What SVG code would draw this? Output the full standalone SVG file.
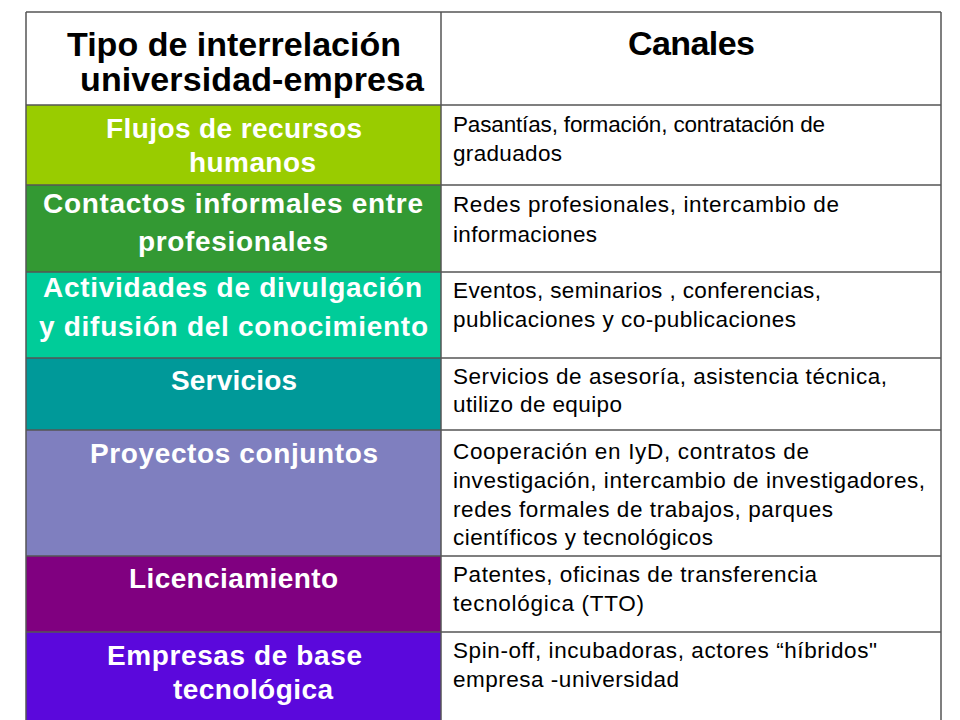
<svg xmlns="http://www.w3.org/2000/svg" width="960" height="720" viewBox="0 0 960 720">
<style>
.hd{font-family:"Liberation Sans",Arial,sans-serif;font-weight:bold;font-size:34px;fill:#000}
.lt{font-family:"Liberation Sans",Arial,sans-serif;font-weight:bold;font-size:28px;fill:#fff}
.rt{font-family:"Liberation Sans",Arial,sans-serif;font-size:22.5px;fill:#000}
.cell{fill:#fff}
.grid{stroke:#555;stroke-width:1.5;fill:none}
</style>
<rect width="960" height="720" fill="#fff"/>
<g id="header">
<rect x="26" y="12" width="915" height="93" class="cell"/>
<text class="hd" x="67" y="56" textLength="334" lengthAdjust="spacing">Tipo de interrelación</text>
<text class="hd" x="80" y="91" textLength="344" lengthAdjust="spacing">universidad-empresa</text>
<text class="hd" x="628" y="55" textLength="127" lengthAdjust="spacing">Canales</text>
</g>
<g id="row1">
<rect x="26" y="105" width="415" height="80" fill="#99CC00"/>
<text class="lt" x="106" y="138" textLength="256" lengthAdjust="spacing">Flujos de recursos</text>
<text class="lt" x="189" y="172" textLength="127" lengthAdjust="spacing">humanos</text>
<text class="rt" x="453" y="132" textLength="372" lengthAdjust="spacing">Pasantías, formación, contratación de</text>
<text class="rt" x="453" y="161" textLength="109" lengthAdjust="spacing">graduados</text>
</g>
<g id="row2">
<rect x="26" y="185" width="415" height="87" fill="#339933"/>
<text class="lt" x="43" y="213" textLength="380" lengthAdjust="spacing">Contactos informales entre</text>
<text class="lt" x="138" y="251" textLength="190" lengthAdjust="spacing">profesionales</text>
<text class="rt" x="453" y="212" textLength="386" lengthAdjust="spacing">Redes profesionales, intercambio de</text>
<text class="rt" x="453" y="242" textLength="144" lengthAdjust="spacing">informaciones</text>
</g>
<g id="row3">
<rect x="26" y="272" width="415" height="86" fill="#00CC99"/>
<text class="lt" x="43" y="297" textLength="379" lengthAdjust="spacing">Actividades de divulgación</text>
<text class="lt" x="39" y="336" textLength="389" lengthAdjust="spacing">y difusión del conocimiento</text>
<text class="rt" x="453" y="298" textLength="368" lengthAdjust="spacing">Eventos, seminarios , conferencias,</text>
<text class="rt" x="453" y="327" textLength="343" lengthAdjust="spacing">publicaciones y co-publicaciones</text>
</g>
<g id="row4">
<rect x="26" y="358" width="415" height="72" fill="#009999"/>
<text class="lt" x="171" y="390" textLength="126" lengthAdjust="spacing">Servicios</text>
<text class="rt" x="453" y="384" textLength="434" lengthAdjust="spacing">Servicios de asesoría, asistencia técnica,</text>
<text class="rt" x="453" y="412" textLength="169" lengthAdjust="spacing">utilizo de equipo</text>
</g>
<g id="row5">
<rect x="26" y="430" width="415" height="126" fill="#7F7FBF"/>
<text class="lt" x="90" y="463" textLength="288" lengthAdjust="spacing">Proyectos conjuntos</text>
<text class="rt" x="453" y="459" textLength="356" lengthAdjust="spacing">Cooperación en IyD, contratos de</text>
<text class="rt" x="453" y="488" textLength="472" lengthAdjust="spacing">investigación, intercambio de investigadores,</text>
<text class="rt" x="453" y="517" textLength="380" lengthAdjust="spacing">redes formales de trabajos, parques</text>
<text class="rt" x="453" y="545" textLength="260" lengthAdjust="spacing">científicos y tecnológicos</text>
</g>
<g id="row6">
<rect x="26" y="556" width="415" height="76" fill="#800080"/>
<text class="lt" x="129" y="588" textLength="209" lengthAdjust="spacing">Licenciamiento</text>
<text class="rt" x="453" y="582" textLength="364" lengthAdjust="spacing">Patentes, oficinas de transferencia</text>
<text class="rt" x="453" y="611" textLength="191" lengthAdjust="spacing">tecnológica (TTO)</text>
</g>
<g id="row7">
<rect x="26" y="632" width="415" height="90" fill="#5B08DC"/>
<text class="lt" x="107" y="665" textLength="255" lengthAdjust="spacing">Empresas de base</text>
<text class="lt" x="173" y="699" textLength="160" lengthAdjust="spacing">tecnológica</text>
<text class="rt" x="453" y="658" textLength="424" lengthAdjust="spacing">Spin-off, incubadoras, actores “híbridos"</text>
<text class="rt" x="453" y="687" textLength="226" lengthAdjust="spacing">empresa -universidad</text>
</g>
<g id="connectors" class="grid">
<path d="M26 12H941M26 105H941M26 185H941M26 272H941M26 358H941M26 430H941M26 556H941M26 632H941"/>
<path d="M26 12V722M441 12V722M941 12V722"/>
</g>
</svg>
